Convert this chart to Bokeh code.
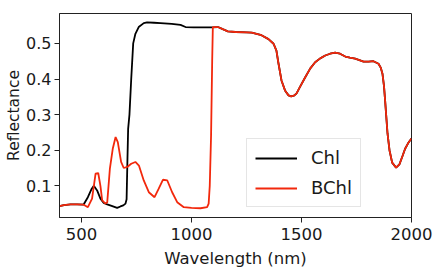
from bokeh.plotting import figure
from bokeh.models import Range1d, FixedTicker, Legend, LegendItem
from bokeh.embed import file_html
from bokeh.resources import INLINE

# Chlorophyll (black) spectrum
chl_wl = [400, 420, 450, 480, 509, 529, 545, 556, 571, 586, 601, 617, 640, 662, 677, 690,
          700, 705, 708, 712, 718, 726, 735, 745, 760, 783, 798, 830, 859, 910, 950, 973,
          1010, 1050, 1095, 1120, 1142, 1165, 1200, 1250, 1274, 1318, 1350, 1373, 1386,
          1395, 1409, 1425, 1441, 1453, 1465, 1477, 1495, 1517, 1540, 1562, 1585, 1608,
          1630, 1653, 1675, 1699, 1720, 1744, 1782, 1805, 1827, 1850, 1860, 1868, 1875,
          1880, 1891, 1900, 1912, 1930, 1945, 1960, 1971, 1985, 2000]
chl_refl = [0.043, 0.046, 0.048, 0.048, 0.047, 0.068, 0.090, 0.100, 0.087, 0.064, 0.052,
            0.048, 0.043, 0.038, 0.042, 0.045, 0.050, 0.062, 0.150, 0.260, 0.300, 0.400,
            0.500, 0.527, 0.546, 0.557, 0.559, 0.558, 0.557, 0.555, 0.552, 0.546, 0.545,
            0.545, 0.545, 0.546, 0.540, 0.534, 0.532, 0.531, 0.530, 0.523, 0.512, 0.499,
            0.480, 0.445, 0.396, 0.368, 0.354, 0.351, 0.353, 0.359, 0.380, 0.405, 0.430,
            0.447, 0.458, 0.466, 0.471, 0.474, 0.471, 0.463, 0.460, 0.457, 0.449, 0.449,
            0.450, 0.443, 0.432, 0.415, 0.380, 0.340, 0.247, 0.200, 0.165, 0.151, 0.160,
            0.185, 0.204, 0.220, 0.233]

# Bacteriochlorophyll (red) spectrum
bchl_wl = [400, 420, 450, 480, 510, 529, 548, 564, 576, 586, 594, 609, 617, 629, 642, 655,
           665, 680, 692, 708, 726, 745, 761, 783, 806, 832, 851, 870, 890, 912, 935, 965,
           1000, 1041, 1071, 1078, 1083, 1089, 1094, 1097, 1120, 1142, 1165, 1200, 1250,
           1274, 1318, 1350, 1373, 1386, 1395, 1409, 1425, 1441, 1453, 1465, 1477, 1495,
           1517, 1540, 1562, 1585, 1608, 1630, 1653, 1675, 1699, 1720, 1744, 1782, 1805,
           1827, 1850, 1860, 1868, 1875, 1880, 1891, 1900, 1912, 1930, 1945, 1960, 1971,
           1985, 2000]
bchl_refl = [0.043, 0.046, 0.048, 0.048, 0.047, 0.040, 0.064, 0.134, 0.136, 0.100, 0.059,
             0.050, 0.054, 0.148, 0.204, 0.237, 0.223, 0.167, 0.150, 0.153, 0.162, 0.167,
             0.157, 0.115, 0.082, 0.068, 0.092, 0.117, 0.115, 0.082, 0.054, 0.040, 0.038,
             0.037, 0.040, 0.050, 0.100, 0.242, 0.450, 0.546, 0.546, 0.540, 0.534, 0.532,
             0.531, 0.530, 0.523, 0.512, 0.499, 0.480, 0.445, 0.396, 0.368, 0.354, 0.351,
             0.353, 0.359, 0.380, 0.405, 0.430, 0.447, 0.458, 0.466, 0.471, 0.474, 0.471,
             0.463, 0.460, 0.457, 0.449, 0.449, 0.450, 0.443, 0.432, 0.415, 0.380, 0.340,
             0.247, 0.200, 0.165, 0.151, 0.160, 0.185, 0.204, 0.220, 0.233]

x_ticks = [500, 1000, 1500, 2000]
y_ticks = [0.1, 0.2, 0.3, 0.4, 0.5]
series_names = ["Chl", "BChl"]

FONT = "DejaVu Sans"

p = figure(frame_width=352, frame_height=204, output_backend="svg", toolbar_location=None,
           x_range=Range1d(400, 2000), y_range=Range1d(0.011, 0.584),
           min_border_left=59, min_border_right=25, min_border_top=13, min_border_bottom=53)
p.background_fill_color = "white"
p.border_fill_color = "white"
p.outline_line_color = "#222222"
p.outline_line_width = 1
p.grid.visible = False

for ax, ticks in ((p.xaxis, x_ticks), (p.yaxis, y_ticks)):
    ax.ticker = FixedTicker(ticks=ticks)
    ax.minor_tick_line_color = None
    ax.major_tick_in = 0
    ax.major_tick_out = 5
    ax.major_tick_line_color = "#222222"
    ax.axis_line_color = "#222222"
    ax.major_label_text_font = FONT
    ax.major_label_text_color = "#1a1a1a"
    ax.axis_label_text_font = FONT
    ax.axis_label_text_font_style = "normal"
    ax.axis_label_text_color = "#1a1a1a"
p.xaxis.major_label_text_font_size = "16.5px"
p.yaxis.major_label_text_font_size = "16px"
p.xaxis.axis_label_text_font_size = "16.5px"
p.yaxis.axis_label_text_font_size = "15.5px"
p.xaxis.axis_label = "Wavelength (nm)"
p.yaxis.axis_label = "Reflectance"
p.xaxis.major_label_standoff = 5
p.xaxis.axis_label_standoff = 6
p.yaxis.major_label_standoff = 3
p.yaxis.axis_label_standoff = 0

r_chl = p.line(chl_wl, chl_refl, line_color="black", line_width=1.8)
r_bchl = p.line(bchl_wl, bchl_refl, line_color="#f2280c", line_width=1.8)

legend = Legend(items=[LegendItem(label=series_names[0], renderers=[r_chl]),
                       LegendItem(label=series_names[1], renderers=[r_bchl])],
                location=(187, 10), label_text_font=FONT, label_text_font_size="18px",
                label_text_color="#1a1a1a", glyph_width=42, glyph_height=20,
                label_height=20, spacing=9, padding=8, margin=0, label_standoff=14,
                border_line_color="#cccccc", border_line_width=1,
                background_fill_alpha=0.8)
p.add_layout(legend, "center")

open("out.html", "w").write(file_html(p, INLINE))
